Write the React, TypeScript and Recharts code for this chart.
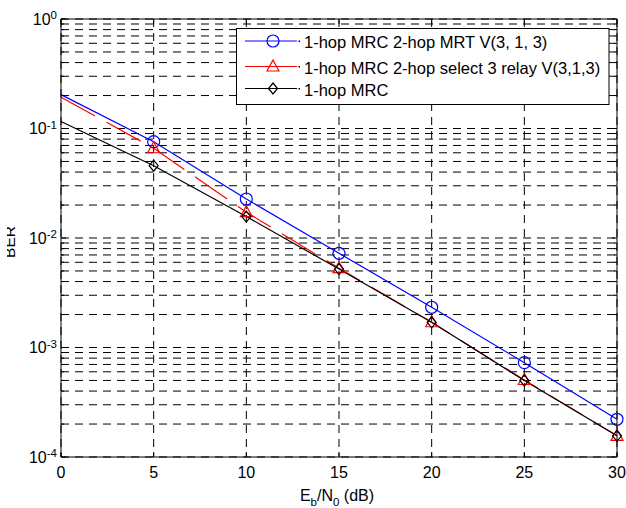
import { LineChart, Line, XAxis, YAxis, CartesianGrid } from 'recharts';

const snrDb = [0, 5, 10, 15, 20, 25, 30];
const berMrt = [0.204, 0.0758, 0.0227, 0.00725, 0.00233, 0.000727, 0.000221];
const berSelect = [0.193, 0.066, 0.0172, 0.0053, 0.0017, 0.000505, 0.000156];
const berMrc = [0.116, 0.0457, 0.0157, 0.0052, 0.0017, 0.0005, 0.000156];

const xTicks = [0, 5, 10, 15, 20, 25, 30];
const decadeTicks = [1e-4, 1e-3, 1e-2, 1e-1, 1];
const decadeExp = ['-4', '-3', '-2', '-1', '0'];
const yTicks = [
  1e-4, 2e-4, 3e-4, 4e-4, 5e-4, 6e-4, 7e-4, 8e-4, 9e-4,
  1e-3, 2e-3, 3e-3, 4e-3, 5e-3, 6e-3, 7e-3, 8e-3, 9e-3,
  1e-2, 2e-2, 3e-2, 4e-2, 5e-2, 6e-2, 7e-2, 8e-2, 9e-2,
  1e-1, 2e-1, 3e-1, 4e-1, 5e-1, 6e-1, 7e-1, 8e-1, 9e-1,
  1,
];
const legendLabels = [
  '1-hop MRC 2-hop MRT V(3, 1, 3)',
  '1-hop MRC 2-hop select 3 relay V(3,1,3)',
  '1-hop MRC',
];

const data = snrDb.map((x, i) => ({ snr: x, mrt: berMrt[i], sel: berSelect[i], mrc: berMrc[i] }));

const FONT = '"Liberation Sans", Arial, Helvetica, sans-serif';

const LeftTick = (props: any) => {
  const { x, y, payload } = props;
  const di = decadeTicks.indexOf(payload.value);
  const major = di >= 0;
  return (
    <g>
      <line x1={x} x2={x + (major ? 5 : 3)} y1={y} y2={y} stroke="#000" />
      {major && (
        <text x={x - 4} y={y + 5.5} textAnchor="end" fontSize={16} fill="#000">
          <tspan>10</tspan>
          <tspan dy={-5.5} fontSize={11.5}>{decadeExp[di]}</tspan>
        </text>
      )}
    </g>
  );
};

const RightTick = (props: any) => {
  const { x, y, payload } = props;
  const major = decadeTicks.indexOf(payload.value) >= 0;
  return <line x1={x} x2={x - (major ? 5 : 3)} y1={y} y2={y} stroke="#000" />;
};

const BottomTick = (props: any) => {
  const { x, y, payload } = props;
  return (
    <g>
      <line x1={x} x2={x} y1={y} y2={y - 5} stroke="#000" />
      <text x={x} y={y + 21} textAnchor="middle" fontSize={16} fill="#000">{payload.value}</text>
    </g>
  );
};

const TopTick = (props: any) => {
  const { x, y } = props;
  return <line x1={x} x2={x} y1={y} y2={y + 5} stroke="#000" />;
};

const XLabel = (props: any) => {
  const vb = props.viewBox;
  const cx = vb.x + vb.width / 2;
  return (
    <text x={cx - 2} y={501} textAnchor="middle" fontSize={16} fill="#000">
      <tspan>E</tspan>
      <tspan dy={5} fontSize={11.5}>b</tspan>
      <tspan dy={-5}>/N</tspan>
      <tspan dy={5} fontSize={11.5}>0</tspan>
      <tspan dy={-5}> (dB)</tspan>
    </text>
  );
};

const Circle = (p: any) =>
  p.index === 0 ? <g key={p.index} /> : (
    <circle key={p.index} cx={p.cx} cy={p.cy} r={6} fill="none" stroke="#0000ff" strokeWidth={1.2} />
  );

const Triangle = (p: any) =>
  p.index === 0 ? <g key={p.index} /> : (
    <polygon
      key={p.index}
      points={`${p.cx},${p.cy - 6.5} ${p.cx - 6},${p.cy + 4.5} ${p.cx + 6},${p.cy + 4.5}`}
      fill="none"
      stroke="#ff0000"
      strokeWidth={1.2}
    />
  );

const Diamond = (p: any) =>
  p.index === 0 ? <g key={p.index} /> : (
    <polygon
      key={p.index}
      points={`${p.cx},${p.cy - 5.5} ${p.cx + 4.5},${p.cy} ${p.cx},${p.cy + 5.5} ${p.cx - 4.5},${p.cy}`}
      fill="none"
      stroke="#000"
      strokeWidth={1.2}
    />
  );

const legendRows = [
  { y: 41, color: '#0000ff', marker: 'circle' },
  { y: 66.5, color: '#ff0000', marker: 'triangle' },
  { y: 88.5, color: '#000000', marker: 'diamond' },
];

function LegendMarker({ kind, cx, cy, color }: { kind: string; cx: number; cy: number; color: string }) {
  if (kind === 'circle') return <circle cx={cx} cy={cy} r={6} fill="none" stroke={color} strokeWidth={1.2} />;
  if (kind === 'triangle')
    return <polygon points={`${cx},${cy - 6.5} ${cx - 6},${cy + 4.5} ${cx + 6},${cy + 4.5}`} fill="none" stroke={color} strokeWidth={1.2} />;
  return <polygon points={`${cx},${cy - 5.5} ${cx + 4.5},${cy} ${cx},${cy + 5.5} ${cx - 4.5},${cy}`} fill="none" stroke={color} strokeWidth={1.2} />;
}

export default function App() {
  return (
    <div style={{ position: 'absolute', left: 0, top: 0, width: 626, height: 508, background: '#fff', fontFamily: FONT }}>
      <LineChart width={626} height={508} data={data} margin={{ top: 9, right: 0, bottom: 21, left: 1 }}>
        <CartesianGrid stroke="#000" strokeDasharray="8 6" />
        <XAxis
          dataKey="snr"
          type="number"
          domain={[0, 30]}
          ticks={xTicks}
          interval={0}
          height={30}
          tickSize={0}
          tickMargin={0}
          tickLine={false}
          axisLine={{ stroke: '#000' }}
          tick={<BottomTick />}
          label={{ content: <XLabel /> }}
        />
        <XAxis
          xAxisId="top"
          orientation="top"
          dataKey="snr"
          type="number"
          domain={[0, 30]}
          ticks={xTicks}
          interval={0}
          height={10}
          tickSize={0}
          tickMargin={0}
          tickLine={false}
          axisLine={{ stroke: '#000' }}
          tick={<TopTick />}
        />
        <YAxis
          type="number"
          scale="log"
          domain={[1e-4, 1]}
          allowDataOverflow
          ticks={yTicks}
          interval={0}
          width={60}
          tickSize={0}
          tickMargin={0}
          tickLine={false}
          axisLine={{ stroke: '#000' }}
          tick={<LeftTick />}
        />
        <YAxis
          yAxisId="right"
          orientation="right"
          type="number"
          scale="log"
          domain={[1e-4, 1]}
          allowDataOverflow
          ticks={yTicks}
          interval={0}
          width={9}
          tickSize={0}
          tickMargin={0}
          tickLine={false}
          axisLine={{ stroke: '#000' }}
          tick={<RightTick />}
        />
        <Line
          dataKey="mrt"
          type="linear"
          stroke="#0000ff"
          strokeWidth={1.2}
          dot={Circle}
          activeDot={false}
          isAnimationActive={false}
        />
        <Line
          dataKey="sel"
          type="linear"
          stroke="#ff0000"
          strokeWidth={1.2}
          strokeDasharray="39 13"
          dot={Triangle}
          activeDot={false}
          isAnimationActive={false}
        />
        <Line
          dataKey="mrc"
          type="linear"
          stroke="#000"
          strokeWidth={1.2}
          dot={Diamond}
          activeDot={false}
          isAnimationActive={false}
        />
      </LineChart>
      <svg width={626} height={508} style={{ position: 'absolute', left: 0, top: 0, pointerEvents: 'none' }}>
        <defs>
          <clipPath id="ber-clip">
            <rect x={7} y={200} width={20} height={100} />
          </clipPath>
        </defs>
        <g clipPath="url(#ber-clip)">
          <text transform="translate(15,242) rotate(-90)" textAnchor="middle" fontSize={15.5} fill="#000">BER</text>
        </g>
        <rect x={236.5} y={28.5} width={372.5} height={76} fill="#fff" stroke="#000" strokeWidth={1} />
        {legendRows.map((r, i) => (
          <g key={i}>
            <line x1={245} x2={297} y1={r.y} y2={r.y} stroke={r.color} strokeWidth={1.2} />
            <LegendMarker kind={r.marker} cx={273} cy={r.y} color={r.color} />
            <rect x={298.5} y={r.y - 0.5} width={1.5} height={1.5} fill="#000" />
            <text x={304} y={r.y + 7} fontSize={16.5} fill="#000">{legendLabels[i]}</text>
          </g>
        ))}
      </svg>
    </div>
  );
}
